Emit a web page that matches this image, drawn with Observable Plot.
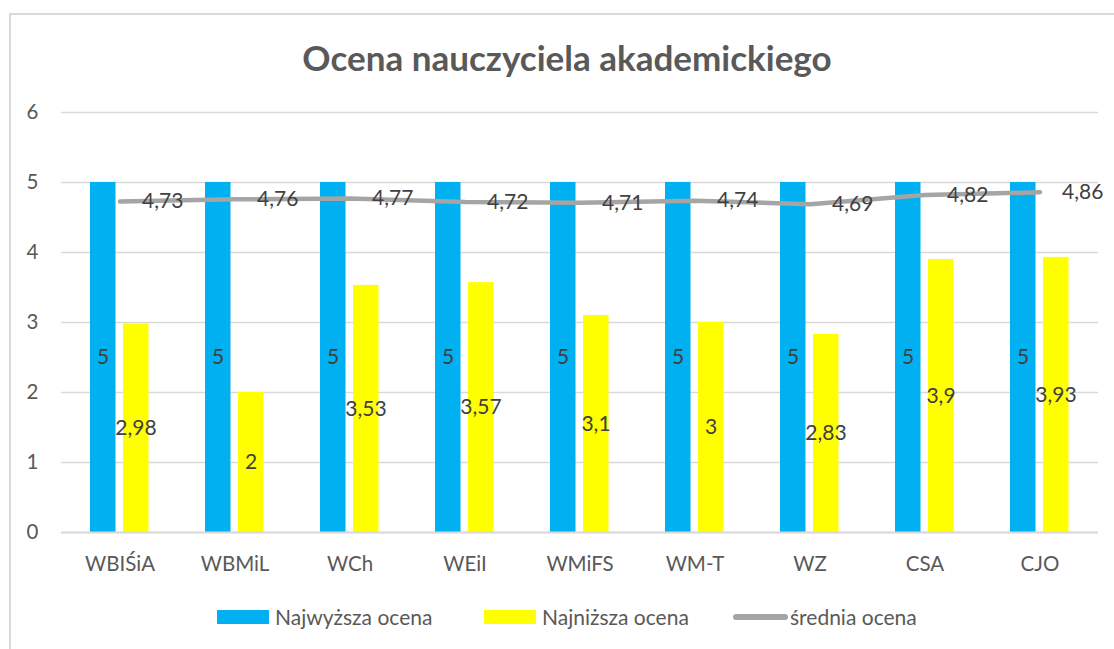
<!DOCTYPE html>
<html>
<head>
<meta charset="utf-8">
<script src="https://cdn.jsdelivr.net/npm/d3@7"></script>
<script src="https://cdn.jsdelivr.net/npm/@observablehq/plot@0.6"></script>
<style>
  html, body { margin: 0; padding: 0; background: #fff; overflow: hidden; }
  #wrap { position: relative; width: 1114px; height: 649px; overflow: hidden; font-family: Lato, "Open Sans", sans-serif; }
  #border { position: absolute; left: 9px; top: 13px; width: 1200px; height: 700px; border: 2px solid #D9D9D9; box-sizing: border-box; }
  #title { position: absolute; left: 10px; width: 1114px; top: 37px; text-align: center; font-size: 35px; font-weight: bold; color: #595959; line-height: 40px; }
  #chart { position: absolute; left: 0; top: 90px; }
  .leg { position: absolute; top: 605px; font-size: 21px; color: #595959; line-height: 24px; white-space: nowrap; }
  .sw { position: absolute; }
</style>
</head>
<body>
<div id="wrap">
  <div id="border"></div>
  <div id="title">Ocena nauczyciela akademickiego</div>
  <div id="chart"></div>
  <div id="legend"></div>
</div>
<script>
const categories = ["WBIŚiA", "WBMiL", "WCh", "WEiI", "WMiFS", "WM-T", "WZ", "CSA", "CJO"];
const najwyzsza = [5, 5, 5, 5, 5, 5, 5, 5, 5];
const najnizsza = [2.98, 2, 3.53, 3.57, 3.1, 3, 2.83, 3.9, 3.93];
const srednia = [4.73, 4.76, 4.77, 4.72, 4.71, 4.74, 4.69, 4.82, 4.86];
const yTicks = [0, 1, 2, 3, 4, 5, 6];
const seriesNames = ["Najwyższa ocena", "Najniższa ocena", "średnia ocena"];
const colors = ["#00B0F0", "#FFFF00", "#A5A5A5"];

const fmt = v => String(v).replace(".", ",");
const hi = categories.map((c, i) => ({c, v: najwyzsza[i]}));
const lo = categories.map((c, i) => ({c, v: najnizsza[i]}));
const avg = categories.map((c, i) => ({c, v: srednia[i]}));

const labelFont = {fontFamily: "Lato, 'Open Sans', sans-serif", fontSize: 21, fill: "#404040"};

const plot = Plot.plot({
  width: 1114,
  height: 500,
  marginTop: 22,
  marginBottom: 58,
  marginLeft: 61,
  marginRight: 16,
  style: {fontFamily: "Lato, 'Open Sans', sans-serif", fontSize: "20.5px", color: "#595959", background: "transparent", overflow: "visible"},
  x: {domain: categories, padding: 0, label: null},
  y: {domain: [0, 6], ticks: yTicks, label: null},
  marks: [
    Plot.gridY(yTicks, {stroke: "#D9D9D9", strokeOpacity: 1, strokeWidth: 1.5}),
    Plot.axisY({ticks: yTicks, tickFormat: d => String(d), tickSize: 0, tickPadding: 23, label: null, fill: "#595959", fontSize: 20.5}),
    Plot.axisX({tickSize: 0, tickPadding: 24, label: null, fill: "#595959", fontSize: 20.5}),
    Plot.barY(hi, {x: "c", y: "v", fill: colors[0], insetLeft: 28, insetRight: 61.5}),
    Plot.barY(lo, {x: "c", y: "v", fill: colors[1], insetLeft: 61, insetRight: 28.5}),
    Plot.ruleY([0], {stroke: "#D9D9D9", strokeWidth: 2}),
    Plot.line(avg, {x: "c", y: "v", stroke: colors[2], strokeWidth: 4.5, strokeLinecap: "round", strokeLinejoin: "round"}),
    Plot.text(hi, {x: "c", y: d => d.v / 2, text: d => fmt(d.v), dx: -17, ...labelFont}),
    Plot.text(lo, {x: "c", y: d => d.v / 2, text: d => fmt(d.v), dx: 16, ...labelFont}),
    Plot.text(avg, {x: "c", y: "v", text: d => fmt(d.v), dx: 22, textAnchor: "start", ...labelFont})
  ]
});
document.getElementById("chart").appendChild(plot);

// legend
const legend = document.getElementById("legend");
const items = [
  {name: seriesNames[0], color: colors[0], sx: 217, sw: 52, tx: 275, kind: "box"},
  {name: seriesNames[1], color: colors[1], sx: 484, sw: 52, tx: 542, kind: "box"},
  {name: seriesNames[2], color: colors[2], sx: 733, sw: 55, tx: 790, kind: "line"}
];
items.forEach(it => {
  const s = document.createElement("div");
  s.className = "sw";
  s.style.left = it.sx + "px";
  s.style.width = it.sw + "px";
  s.style.background = it.color;
  if (it.kind === "box") { s.style.top = "610px"; s.style.height = "14px"; }
  else { s.style.top = "614px"; s.style.height = "6px"; s.style.borderRadius = "3px"; }
  legend.appendChild(s);
  const t = document.createElement("div");
  t.className = "leg";
  t.style.left = it.tx + "px";
  t.textContent = it.name;
  legend.appendChild(t);
});
</script>
</body>
</html>
